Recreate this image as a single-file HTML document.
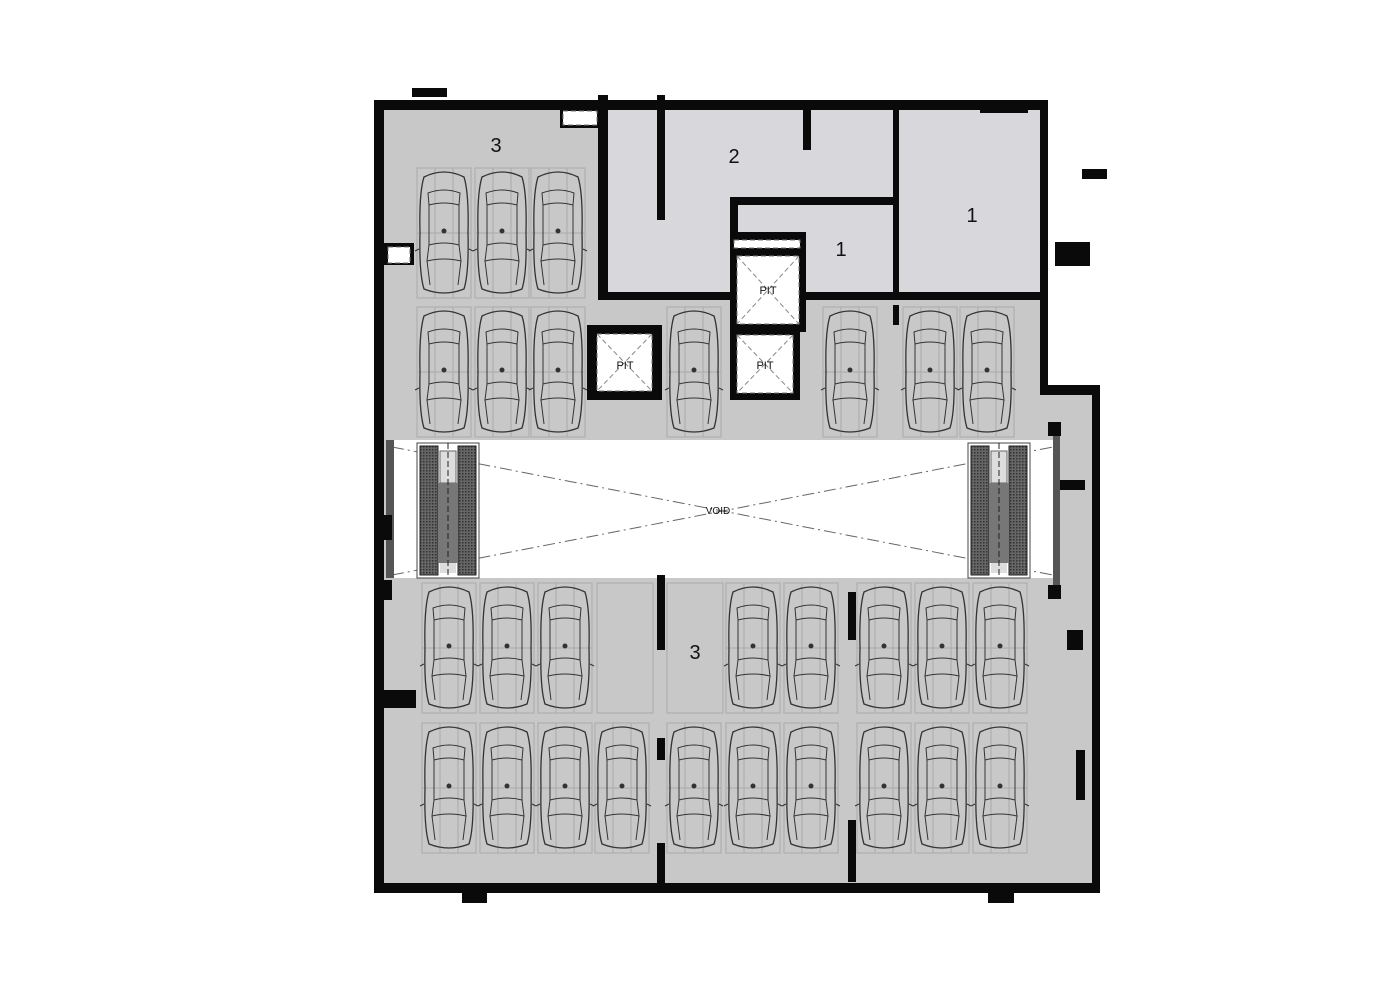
<!DOCTYPE html>
<html><head><meta charset="utf-8"><style>body{margin:0;background:#fff}svg{display:block}text{font-family:"Liberation Sans",sans-serif;fill:#111}</style></head><body>
<svg width="1400" height="1000" viewBox="0 0 1400 1000" xmlns="http://www.w3.org/2000/svg">
<defs>
<pattern id="hat" width="3" height="3" patternUnits="userSpaceOnUse"><rect width="3" height="3" fill="#666"/><rect width="1.5" height="1.5" fill="#333"/></pattern>
<g id="car" fill="none" stroke="#333" stroke-width="1">
<rect x="-27" y="-65" width="54" height="130" fill="none" stroke="#aaa"/>
<line x1="-9" y1="-65" x2="-9" y2="65" stroke="#aaa"/><line x1="9" y1="-65" x2="9" y2="65" stroke="#aaa"/>
<line x1="-27" y1="0" x2="27" y2="0" stroke="#aaa"/>
<path d="M-20,-56 Q0,-66 20,-56 Q25,-40 24,0 Q25,40 20,56 Q0,64 -20,56 Q-25,40 -24,0 Q-25,-40 -20,-56Z" stroke-width="1.3"/>
<path d="M-16,-40 Q0,-46 16,-40 L15,-28 Q0,-32 -15,-28Z"/>
<path d="M-15,-28 L-15,12 M15,-28 L15,12"/>
<path d="M-15,12 Q0,8 15,12 L17,28 Q0,24 -17,28Z"/>
<path d="M-17,28 L-14,52 M17,28 L14,52"/>
<path d="M-25,16 l-4,2 M25,16 l4,2"/>
<circle cx="0" cy="-2" r="2" fill="#333"/>
</g>
<g id="esc">
<rect x="0" y="0" width="62" height="135" fill="#fff" stroke="#444"/>
<rect x="3" y="3" width="18" height="129" fill="url(#hat)" stroke="#222"/>
<rect x="41" y="3" width="18" height="129" fill="url(#hat)" stroke="#222"/>
<rect x="23" y="8" width="16" height="32" fill="#ddd" stroke="#666"/>
<rect x="21" y="40" width="20" height="80" fill="#777"/>
<rect x="23" y="120" width="16" height="10" fill="#ddd"/>
<line x1="31" y1="0" x2="31" y2="135" stroke="#222" stroke-dasharray="6,3"/>
</g>
</defs>
<path d="M379,105 H1044 V390 H1096 V888 H379Z" fill="#c8c8c8"/>
<rect x="604" y="110" width="440" height="186" fill="#d8d8dc"/>
<rect x="392" y="440" width="661" height="138" fill="#fff"/>
<line x1="392" y1="447" x2="1053" y2="575" stroke="#666" stroke-dasharray="12,4,2,4"/>
<line x1="392" y1="575" x2="1053" y2="447" stroke="#666" stroke-dasharray="12,4,2,4"/>
<use href="#esc" x="417" y="443"/>
<use href="#esc" x="968" y="443"/>
<text x="718" y="514" font-size="10" text-anchor="middle">VOID</text>
<g>
<use href="#car" x="444" y="233"/><use href="#car" x="502" y="233"/><use href="#car" x="558" y="233"/>
<use href="#car" x="444" y="372"/><use href="#car" x="502" y="372"/><use href="#car" x="558" y="372"/>
<use href="#car" x="694" y="372"/><use href="#car" x="850" y="372"/><use href="#car" x="930" y="372"/><use href="#car" x="987" y="372"/>
<use href="#car" x="449" y="648"/><use href="#car" x="507" y="648"/><use href="#car" x="565" y="648"/>
<use href="#car" x="753" y="648"/><use href="#car" x="811" y="648"/><use href="#car" x="884" y="648"/><use href="#car" x="942" y="648"/><use href="#car" x="1000" y="648"/>
<use href="#car" x="449" y="788"/><use href="#car" x="507" y="788"/><use href="#car" x="565" y="788"/><use href="#car" x="622" y="788"/><use href="#car" x="694" y="788"/>
<use href="#car" x="753" y="788"/><use href="#car" x="811" y="788"/><use href="#car" x="884" y="788"/><use href="#car" x="942" y="788"/><use href="#car" x="1000" y="788"/>
</g>
<g fill="none" stroke="#aaa"><rect x="597" y="583" width="56" height="130"/><rect x="667" y="583" width="56" height="130"/></g>
<g fill="#0a0a0a">
<path d="M374,100 H1048 V385 H1100 V893 H374Z M384,110 V883 H1092 V395 H1040 V110Z" fill-rule="evenodd"/>
<rect x="598" y="95" width="10" height="205"/>
<rect x="600" y="292" width="448" height="8"/>
<rect x="657" y="95" width="8" height="125"/>
<rect x="803" y="110" width="8" height="40"/>
<rect x="893" y="110" width="6" height="182"/>
<rect x="730" y="197" width="167" height="8"/>
<rect x="730" y="197" width="8" height="40"/>
<rect x="730" y="232" width="76" height="100"/>
<rect x="730" y="330" width="70" height="70"/>
<rect x="587" y="325" width="75" height="75"/>
<rect x="893" y="305" width="6" height="20"/>
<rect x="980" y="108" width="48" height="5"/>
<rect x="412" y="88" width="35" height="9"/>
<rect x="1082" y="169" width="25" height="10"/>
<rect x="1055" y="242" width="35" height="24"/>
<rect x="462" y="893" width="25" height="10"/>
<rect x="988" y="893" width="26" height="10"/>
<rect x="657" y="575" width="8" height="75"/>
<rect x="657" y="738" width="8" height="22"/>
<rect x="657" y="843" width="8" height="42"/>
<rect x="848" y="592" width="8" height="48"/>
<rect x="848" y="820" width="8" height="62"/>
<rect x="384" y="690" width="32" height="18"/>
<rect x="384" y="580" width="8" height="20"/>
<rect x="1053" y="480" width="32" height="10"/>
<rect x="1067" y="630" width="16" height="20"/>
<rect x="1076" y="750" width="9" height="50"/>
<rect x="1048" y="422" width="13" height="14"/>
<rect x="1048" y="585" width="13" height="14"/>
<rect x="384" y="243" width="30" height="22"/>
<rect x="560" y="108" width="40" height="20"/>
</g>
<rect x="1053" y="436" width="7" height="149" fill="#555"/>
<rect x="386" y="440" width="8" height="138" fill="#555"/>
<rect x="384" y="515" width="8" height="25" fill="#0a0a0a"/>
<g fill="#fff" stroke="#777" stroke-dasharray="5,3">
<rect x="737" y="256" width="62" height="68"/>
<rect x="737" y="335" width="56" height="58"/>
<rect x="597" y="334" width="55" height="57"/>
<rect x="388" y="247" width="22" height="16"/>
<rect x="563" y="111" width="34" height="14"/>
<rect x="734" y="240" width="66" height="8"/>
</g>
<g stroke="#888" stroke-dasharray="5,3">
<line x1="737" y1="256" x2="799" y2="324"/><line x1="799" y1="256" x2="737" y2="324"/>
<line x1="737" y1="335" x2="793" y2="393"/><line x1="793" y1="335" x2="737" y2="393"/>
<line x1="597" y1="334" x2="652" y2="391"/><line x1="652" y1="334" x2="597" y2="391"/>
</g>
<text x="768" y="294" font-size="11" text-anchor="middle">PIT</text>
<text x="765" y="369" font-size="11" text-anchor="middle">PIT</text>
<text x="625" y="369" font-size="11" text-anchor="middle">PIT</text>
<text x="496" y="152" font-size="20" text-anchor="middle">3</text>
<text x="734" y="163" font-size="20" text-anchor="middle">2</text>
<text x="841" y="256" font-size="20" text-anchor="middle">1</text>
<text x="972" y="222" font-size="20" text-anchor="middle">1</text>
<text x="695" y="659" font-size="20" text-anchor="middle">3</text>
</svg>
</body></html>
